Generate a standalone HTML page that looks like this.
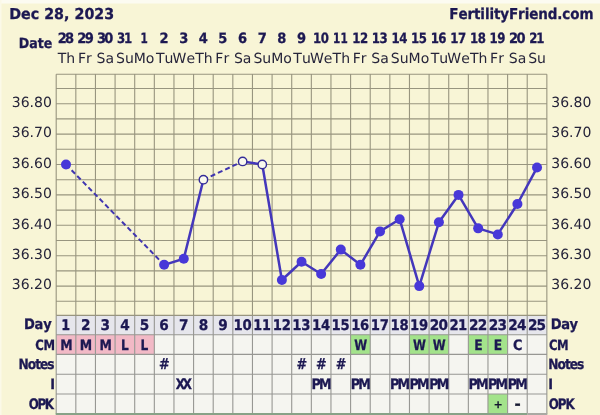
<!DOCTYPE html>
<html><head><meta charset="utf-8"><title>Fertility chart</title>
<style>
html,body{margin:0;padding:0;background:#f8f5d6;}
svg{display:block;font-family:"DejaVu Sans","Liberation Sans",sans-serif;font-kerning:none;text-rendering:geometricPrecision;}
</style></head><body>
<svg width="600" height="415" viewBox="0 0 600 415">
<rect x="0" y="0" width="600" height="415" fill="#f8f5d6"/>
<rect x="0" y="0" width="600" height="3.5" fill="#fcfbf1"/>
<rect x="0" y="0" width="1.5" height="415" fill="#fbf9e8"/>
<rect x="56.20" y="315.40" width="490.65" height="19.30" fill="#e6e6ec"/>
<rect x="56.20" y="334.70" width="490.65" height="79.10" fill="#f5f5f0"/>
<rect x="56.20" y="334.70" width="19.63" height="19.70" fill="#f2b9c6"/>
<rect x="75.83" y="334.70" width="19.63" height="19.70" fill="#f2b9c6"/>
<rect x="95.45" y="334.70" width="19.63" height="19.70" fill="#f2b9c6"/>
<rect x="115.08" y="334.70" width="19.63" height="19.70" fill="#f2b9c6"/>
<rect x="134.70" y="334.70" width="19.63" height="19.70" fill="#f2b9c6"/>
<rect x="350.59" y="334.70" width="19.63" height="19.70" fill="#a3e38b"/>
<rect x="409.47" y="334.70" width="19.63" height="19.70" fill="#a3e38b"/>
<rect x="429.09" y="334.70" width="19.63" height="19.70" fill="#a3e38b"/>
<rect x="468.35" y="334.70" width="19.63" height="19.70" fill="#a3e38b"/>
<rect x="487.97" y="334.70" width="19.63" height="19.70" fill="#a3e38b"/>
<rect x="487.97" y="394.00" width="19.63" height="19.80" fill="#a3e38b"/>
<path d="M56.20 74.20H546.85 M56.20 88.50H546.85 M56.20 103.70H546.85 M56.20 118.90H546.85 M56.20 134.10H546.85 M56.20 149.30H546.85 M56.20 164.50H546.85 M56.20 179.70H546.85 M56.20 194.90H546.85 M56.20 210.10H546.85 M56.20 225.30H546.85 M56.20 240.50H546.85 M56.20 255.70H546.85 M56.20 270.90H546.85 M56.20 286.10H546.85 M56.20 301.30H546.85 M56.20 315.40H546.85 M56.20 74.20V315.40 M75.83 74.20V315.40 M95.45 74.20V315.40 M115.08 74.20V315.40 M134.70 74.20V315.40 M154.33 74.20V315.40 M173.96 74.20V315.40 M193.58 74.20V315.40 M213.21 74.20V315.40 M232.83 74.20V315.40 M252.46 74.20V315.40 M272.09 74.20V315.40 M291.71 74.20V315.40 M311.34 74.20V315.40 M330.96 74.20V315.40 M350.59 74.20V315.40 M370.22 74.20V315.40 M389.84 74.20V315.40 M409.47 74.20V315.40 M429.09 74.20V315.40 M448.72 74.20V315.40 M468.35 74.20V315.40 M487.97 74.20V315.40 M507.60 74.20V315.40 M527.22 74.20V315.40 M546.85 74.20V315.40" stroke="#98957f" stroke-width="1.1" fill="none"/>
<path d="M56.20 334.70H546.85 M56.20 354.40H546.85 M56.20 374.20H546.85 M56.20 394.00H546.85 M56.20 315.40V413.80 M75.83 315.40V413.80 M95.45 315.40V413.80 M115.08 315.40V413.80 M134.70 315.40V413.80 M154.33 315.40V413.80 M173.96 315.40V413.80 M193.58 315.40V413.80 M213.21 315.40V413.80 M232.83 315.40V413.80 M252.46 315.40V413.80 M272.09 315.40V413.80 M291.71 315.40V413.80 M311.34 315.40V413.80 M330.96 315.40V413.80 M350.59 315.40V413.80 M370.22 315.40V413.80 M389.84 315.40V413.80 M409.47 315.40V413.80 M429.09 315.40V413.80 M448.72 315.40V413.80 M468.35 315.40V413.80 M487.97 315.40V413.80 M507.60 315.40V413.80 M527.22 315.40V413.80 M546.85 315.40V413.80" stroke="#979793" stroke-width="1.1" fill="none"/>
<rect x="55.70" y="413.0" width="471.52" height="2" fill="#87a287"/>
<rect x="527.22" y="413.0" width="20.13" height="2" fill="#a9a9a3"/>
<path d="M164.14 264.82L183.77 258.74 M183.77 258.74L203.40 179.70 M242.65 161.46L262.27 164.50 M262.27 164.50L281.90 280.02 M281.90 280.02L301.53 261.78 M301.53 261.78L321.15 273.94 M321.15 273.94L340.78 249.62 M340.78 249.62L360.40 264.82 M360.40 264.82L380.03 231.38 M380.03 231.38L399.66 219.22 M399.66 219.22L419.28 286.10 M419.28 286.10L438.91 222.26 M438.91 222.26L458.53 194.90 M458.53 194.90L478.16 228.34 M478.16 228.34L497.79 234.42 M497.79 234.42L517.41 204.02 M517.41 204.02L537.04 167.54" stroke="#4437bb" stroke-width="2.5" fill="none" stroke-linejoin="round"/>
<path d="M66.01 164.50L164.14 264.82 M203.40 179.70L242.65 161.46" stroke="#4035b0" stroke-width="2.0" fill="none" stroke-dasharray="5 3"/>
<circle cx="66.01" cy="164.50" r="5.0" fill="#4838d8"/>
<circle cx="164.14" cy="264.82" r="5.0" fill="#4838d8"/>
<circle cx="183.77" cy="258.74" r="5.0" fill="#4838d8"/>
<circle cx="203.40" cy="179.70" r="4.2" fill="#faf9ee" stroke="#352c98" stroke-width="1.4"/>
<circle cx="242.65" cy="161.46" r="4.2" fill="#faf9ee" stroke="#352c98" stroke-width="1.4"/>
<circle cx="262.27" cy="164.50" r="4.2" fill="#faf9ee" stroke="#352c98" stroke-width="1.4"/>
<circle cx="281.90" cy="280.02" r="5.0" fill="#4838d8"/>
<circle cx="301.53" cy="261.78" r="5.0" fill="#4838d8"/>
<circle cx="321.15" cy="273.94" r="5.0" fill="#4838d8"/>
<circle cx="340.78" cy="249.62" r="5.0" fill="#4838d8"/>
<circle cx="360.40" cy="264.82" r="5.0" fill="#4838d8"/>
<circle cx="380.03" cy="231.38" r="5.0" fill="#4838d8"/>
<circle cx="399.66" cy="219.22" r="5.0" fill="#4838d8"/>
<circle cx="419.28" cy="286.10" r="5.0" fill="#4838d8"/>
<circle cx="438.91" cy="222.26" r="5.0" fill="#4838d8"/>
<circle cx="458.53" cy="194.90" r="5.0" fill="#4838d8"/>
<circle cx="478.16" cy="228.34" r="5.0" fill="#4838d8"/>
<circle cx="497.79" cy="234.42" r="5.0" fill="#4838d8"/>
<circle cx="517.41" cy="204.02" r="5.0" fill="#4838d8"/>
<circle cx="537.04" cy="167.54" r="5.0" fill="#4838d8"/>
<text transform="translate(9.19 18.50) scale(0.95 1)" font-size="15" font-weight="bold" fill="#1c1852" letter-spacing="0.02" stroke="#1c1852" stroke-width="0.3">Dec 28, 2023</text>
<text transform="translate(449.26 18.50) scale(0.9 1)" font-size="15" font-weight="bold" fill="#1c1852" letter-spacing="-0.11" stroke="#1c1852" stroke-width="0.3">FertilityFriend.com</text>
<text transform="translate(18.74 48.40) scale(0.9 1)" font-size="14" font-weight="bold" fill="#1c1852" letter-spacing="0.01" stroke="#1c1852" stroke-width="0.3">Date</text>
<text transform="translate(0 43.00) scale(0.920 1)" x="62.74 70.73" y="0" font-size="14.2" font-weight="bold" fill="#1c1852" stroke="#1c1852" stroke-width="0.3">28</text>
<text x="57.82" y="62.70" font-size="14" fill="#26243a">Th</text>
<text transform="translate(0 43.00) scale(0.920 1)" x="84.07 92.15" y="0" font-size="14.2" font-weight="bold" fill="#1c1852" stroke="#1c1852" stroke-width="0.3">29</text>
<text x="77.95" y="62.70" font-size="14" fill="#26243a">Fr</text>
<text transform="translate(0 43.00) scale(0.920 1)" x="105.44 113.39" y="0" font-size="14.2" font-weight="bold" fill="#1c1852" stroke="#1c1852" stroke-width="0.3">30</text>
<text x="96.61" y="62.70" font-size="14" fill="#26243a">Sa</text>
<text transform="translate(0 43.00) scale(0.830 1)" x="141.04 149.56" y="0" font-size="14.2" font-weight="bold" fill="#1c1852" stroke="#1c1852" stroke-width="0.3">31</text>
<text x="116.09" y="62.70" font-size="14" fill="#26243a">Su</text>
<text transform="translate(0 43.00) scale(0.740 1)" x="189.91" y="0" font-size="14.2" font-weight="bold" fill="#1c1852" stroke="#1c1852" stroke-width="0.3">1</text>
<text x="133.79" y="62.70" font-size="14" fill="#26243a">Mo</text>
<text transform="translate(0 43.00) scale(0.920 1)" x="173.42" y="0" font-size="14.2" font-weight="bold" fill="#1c1852" stroke="#1c1852" stroke-width="0.3">2</text>
<text x="155.99" y="62.70" font-size="14" fill="#26243a">Tu</text>
<text transform="translate(0 43.00) scale(0.920 1)" x="194.79" y="0" font-size="14.2" font-weight="bold" fill="#1c1852" stroke="#1c1852" stroke-width="0.3">3</text>
<text x="172.58" y="62.70" font-size="14" fill="#26243a">We</text>
<text transform="translate(0 43.00) scale(0.920 1)" x="216.04" y="0" font-size="14.2" font-weight="bold" fill="#1c1852" stroke="#1c1852" stroke-width="0.3">4</text>
<text x="195.20" y="62.70" font-size="14" fill="#26243a">Th</text>
<text transform="translate(0 43.00) scale(0.920 1)" x="237.31" y="0" font-size="14.2" font-weight="bold" fill="#1c1852" stroke="#1c1852" stroke-width="0.3">5</text>
<text x="215.33" y="62.70" font-size="14" fill="#26243a">Fr</text>
<text transform="translate(0 43.00) scale(0.920 1)" x="258.64" y="0" font-size="14.2" font-weight="bold" fill="#1c1852" stroke="#1c1852" stroke-width="0.3">6</text>
<text x="233.99" y="62.70" font-size="14" fill="#26243a">Sa</text>
<text transform="translate(0 43.00) scale(0.920 1)" x="280.12" y="0" font-size="14.2" font-weight="bold" fill="#1c1852" stroke="#1c1852" stroke-width="0.3">7</text>
<text x="253.47" y="62.70" font-size="14" fill="#26243a">Su</text>
<text transform="translate(0 43.00) scale(0.920 1)" x="301.37" y="0" font-size="14.2" font-weight="bold" fill="#1c1852" stroke="#1c1852" stroke-width="0.3">8</text>
<text x="271.17" y="62.70" font-size="14" fill="#26243a">Mo</text>
<text transform="translate(0 43.00) scale(0.920 1)" x="322.78" y="0" font-size="14.2" font-weight="bold" fill="#1c1852" stroke="#1c1852" stroke-width="0.3">9</text>
<text x="293.37" y="62.70" font-size="14" fill="#26243a">Tu</text>
<text transform="translate(0 43.00) scale(0.830 1)" x="377.10 386.33" y="0" font-size="14.2" font-weight="bold" fill="#1c1852" stroke="#1c1852" stroke-width="0.3">10</text>
<text x="309.96" y="62.70" font-size="14" fill="#26243a">We</text>
<text transform="translate(0 43.00) scale(0.740 1)" x="450.12 460.12" y="0" font-size="14.2" font-weight="bold" fill="#1c1852" stroke="#1c1852" stroke-width="0.3">11</text>
<text x="332.58" y="62.70" font-size="14" fill="#26243a">Th</text>
<text transform="translate(0 43.00) scale(0.830 1)" x="424.39 433.67" y="0" font-size="14.2" font-weight="bold" fill="#1c1852" stroke="#1c1852" stroke-width="0.3">12</text>
<text x="352.71" y="62.70" font-size="14" fill="#26243a">Fr</text>
<text transform="translate(0 43.00) scale(0.830 1)" x="448.04 457.35" y="0" font-size="14.2" font-weight="bold" fill="#1c1852" stroke="#1c1852" stroke-width="0.3">13</text>
<text x="371.37" y="62.70" font-size="14" fill="#26243a">Sa</text>
<text transform="translate(0 43.00) scale(0.830 1)" x="471.68 480.92" y="0" font-size="14.2" font-weight="bold" fill="#1c1852" stroke="#1c1852" stroke-width="0.3">14</text>
<text x="390.85" y="62.70" font-size="14" fill="#26243a">Su</text>
<text transform="translate(0 43.00) scale(0.830 1)" x="495.33 504.50" y="0" font-size="14.2" font-weight="bold" fill="#1c1852" stroke="#1c1852" stroke-width="0.3">15</text>
<text x="408.55" y="62.70" font-size="14" fill="#26243a">Mo</text>
<text transform="translate(0 43.00) scale(0.830 1)" x="518.97 528.14" y="0" font-size="14.2" font-weight="bold" fill="#1c1852" stroke="#1c1852" stroke-width="0.3">16</text>
<text x="430.75" y="62.70" font-size="14" fill="#26243a">Tu</text>
<text transform="translate(0 43.00) scale(0.830 1)" x="542.62 551.94" y="0" font-size="14.2" font-weight="bold" fill="#1c1852" stroke="#1c1852" stroke-width="0.3">17</text>
<text x="447.35" y="62.70" font-size="14" fill="#26243a">We</text>
<text transform="translate(0 43.00) scale(0.830 1)" x="566.26 575.50" y="0" font-size="14.2" font-weight="bold" fill="#1c1852" stroke="#1c1852" stroke-width="0.3">18</text>
<text x="469.96" y="62.70" font-size="14" fill="#26243a">Th</text>
<text transform="translate(0 43.00) scale(0.830 1)" x="589.91 599.22" y="0" font-size="14.2" font-weight="bold" fill="#1c1852" stroke="#1c1852" stroke-width="0.3">19</text>
<text x="490.09" y="62.70" font-size="14" fill="#26243a">Fr</text>
<text transform="translate(0 43.00) scale(0.920 1)" x="553.39 561.38" y="0" font-size="14.2" font-weight="bold" fill="#1c1852" stroke="#1c1852" stroke-width="0.3">20</text>
<text x="508.75" y="62.70" font-size="14" fill="#26243a">Sa</text>
<text transform="translate(0 43.00) scale(0.830 1)" x="637.57 646.12" y="0" font-size="14.2" font-weight="bold" fill="#1c1852" stroke="#1c1852" stroke-width="0.3">21</text>
<text x="528.23" y="62.70" font-size="14" fill="#26243a">Su</text>
<text x="11.75" y="107.00" font-size="14" fill="#26243a">36.80</text>
<text x="551.23" y="107.00" font-size="14" fill="#26243a">36.80</text>
<text x="11.75" y="137.40" font-size="14" fill="#26243a">36.70</text>
<text x="551.23" y="137.40" font-size="14" fill="#26243a">36.70</text>
<text x="11.75" y="167.80" font-size="14" fill="#26243a">36.60</text>
<text x="551.23" y="167.80" font-size="14" fill="#26243a">36.60</text>
<text x="11.75" y="198.20" font-size="14" fill="#26243a">36.50</text>
<text x="551.23" y="198.20" font-size="14" fill="#26243a">36.50</text>
<text x="11.75" y="228.60" font-size="14" fill="#26243a">36.40</text>
<text x="551.23" y="228.60" font-size="14" fill="#26243a">36.40</text>
<text x="11.75" y="259.00" font-size="14" fill="#26243a">36.30</text>
<text x="551.23" y="259.00" font-size="14" fill="#26243a">36.30</text>
<text x="11.75" y="289.40" font-size="14" fill="#26243a">36.20</text>
<text x="551.23" y="289.40" font-size="14" fill="#26243a">36.20</text>
<text transform="translate(23.90 328.80) scale(0.9 1)" font-size="14.5" font-weight="bold" fill="#1c1852" letter-spacing="-0.12" stroke="#1c1852" stroke-width="0.3">Day</text>
<text transform="translate(550.70 328.80) scale(0.9 1)" font-size="14.5" font-weight="bold" fill="#1c1852" letter-spacing="-0.40" stroke="#1c1852" stroke-width="0.3">Day</text>
<text transform="translate(35.22 349.70) scale(0.82 1)" font-size="14.2" font-weight="bold" fill="#1c1852" letter-spacing="-0.34" stroke="#1c1852" stroke-width="0.3">CM</text>
<text transform="translate(548.92 349.70) scale(0.82 1)" font-size="14.2" font-weight="bold" fill="#1c1852" letter-spacing="-0.58" stroke="#1c1852" stroke-width="0.3">CM</text>
<text transform="translate(18.58 368.60) scale(0.86 1)" font-size="14.2" font-weight="bold" fill="#1c1852" letter-spacing="-1.19" stroke="#1c1852" stroke-width="0.3">Notes</text>
<text transform="translate(548.28 368.60) scale(0.86 1)" font-size="14.2" font-weight="bold" fill="#1c1852" letter-spacing="-1.13" stroke="#1c1852" stroke-width="0.3">Notes</text>
<text transform="translate(50.22 388.60) scale(0.9 1)" font-size="14.2" font-weight="bold" fill="#1c1852" stroke="#1c1852" stroke-width="0.3">I</text>
<text transform="translate(548.23 388.60) scale(0.9 1)" font-size="14.2" font-weight="bold" fill="#1c1852" stroke="#1c1852" stroke-width="0.3">I</text>
<text transform="translate(28.71 408.50) scale(0.82 1)" font-size="14.5" font-weight="bold" fill="#1c1852" letter-spacing="-1.65" stroke="#1c1852" stroke-width="0.3">OPK</text>
<text transform="translate(548.81 408.50) scale(0.82 1)" font-size="14.5" font-weight="bold" fill="#1c1852" letter-spacing="-1.34" stroke="#1c1852" stroke-width="0.3">OPK</text>
<text transform="translate(0 330.00) scale(0.870 1)" x="70.44" y="0" font-size="14.7" font-weight="bold" fill="#1c1852" stroke="#1c1852" stroke-width="0.3">1</text>
<text transform="translate(0 330.00) scale(0.930 1)" x="87.03" y="0" font-size="14.7" font-weight="bold" fill="#1c1852" stroke="#1c1852" stroke-width="0.3">2</text>
<text transform="translate(0 330.00) scale(0.930 1)" x="108.17" y="0" font-size="14.7" font-weight="bold" fill="#1c1852" stroke="#1c1852" stroke-width="0.3">3</text>
<text transform="translate(0 330.00) scale(0.930 1)" x="129.18" y="0" font-size="14.7" font-weight="bold" fill="#1c1852" stroke="#1c1852" stroke-width="0.3">4</text>
<text transform="translate(0 330.00) scale(0.930 1)" x="150.23" y="0" font-size="14.7" font-weight="bold" fill="#1c1852" stroke="#1c1852" stroke-width="0.3">5</text>
<text transform="translate(0 330.00) scale(0.930 1)" x="171.32" y="0" font-size="14.7" font-weight="bold" fill="#1c1852" stroke="#1c1852" stroke-width="0.3">6</text>
<text transform="translate(0 330.00) scale(0.930 1)" x="192.58" y="0" font-size="14.7" font-weight="bold" fill="#1c1852" stroke="#1c1852" stroke-width="0.3">7</text>
<text transform="translate(0 330.00) scale(0.930 1)" x="213.60" y="0" font-size="14.7" font-weight="bold" fill="#1c1852" stroke="#1c1852" stroke-width="0.3">8</text>
<text transform="translate(0 330.00) scale(0.930 1)" x="234.78" y="0" font-size="14.7" font-weight="bold" fill="#1c1852" stroke="#1c1852" stroke-width="0.3">9</text>
<text transform="translate(0 330.00) scale(0.900 1)" x="259.34 269.33" y="0" font-size="14.7" font-weight="bold" fill="#1c1852" stroke="#1c1852" stroke-width="0.3">10</text>
<text transform="translate(0 330.00) scale(0.870 1)" x="291.03 301.03" y="0" font-size="14.7" font-weight="bold" fill="#1c1852" stroke="#1c1852" stroke-width="0.3">11</text>
<text transform="translate(0 330.00) scale(0.900 1)" x="302.95 313.00" y="0" font-size="14.7" font-weight="bold" fill="#1c1852" stroke="#1c1852" stroke-width="0.3">12</text>
<text transform="translate(0 330.00) scale(0.900 1)" x="324.76 334.84" y="0" font-size="14.7" font-weight="bold" fill="#1c1852" stroke="#1c1852" stroke-width="0.3">13</text>
<text transform="translate(0 330.00) scale(0.900 1)" x="346.56 356.56" y="0" font-size="14.7" font-weight="bold" fill="#1c1852" stroke="#1c1852" stroke-width="0.3">14</text>
<text transform="translate(0 330.00) scale(0.900 1)" x="368.37 378.31" y="0" font-size="14.7" font-weight="bold" fill="#1c1852" stroke="#1c1852" stroke-width="0.3">15</text>
<text transform="translate(0 330.00) scale(0.900 1)" x="390.18 400.11" y="0" font-size="14.7" font-weight="bold" fill="#1c1852" stroke="#1c1852" stroke-width="0.3">16</text>
<text transform="translate(0 330.00) scale(0.900 1)" x="411.98 422.07" y="0" font-size="14.7" font-weight="bold" fill="#1c1852" stroke="#1c1852" stroke-width="0.3">17</text>
<text transform="translate(0 330.00) scale(0.900 1)" x="433.79 443.79" y="0" font-size="14.7" font-weight="bold" fill="#1c1852" stroke="#1c1852" stroke-width="0.3">18</text>
<text transform="translate(0 330.00) scale(0.900 1)" x="455.60 465.68" y="0" font-size="14.7" font-weight="bold" fill="#1c1852" stroke="#1c1852" stroke-width="0.3">19</text>
<text transform="translate(0 330.00) scale(0.930 1)" x="462.21 471.51" y="0" font-size="14.7" font-weight="bold" fill="#1c1852" stroke="#1c1852" stroke-width="0.3">20</text>
<text transform="translate(0 330.00) scale(0.900 1)" x="499.59 508.88" y="0" font-size="14.7" font-weight="bold" fill="#1c1852" stroke="#1c1852" stroke-width="0.3">21</text>
<text transform="translate(0 330.00) scale(0.930 1)" x="504.42 513.77" y="0" font-size="14.7" font-weight="bold" fill="#1c1852" stroke="#1c1852" stroke-width="0.3">22</text>
<text transform="translate(0 330.00) scale(0.930 1)" x="525.52 534.91" y="0" font-size="14.7" font-weight="bold" fill="#1c1852" stroke="#1c1852" stroke-width="0.3">23</text>
<text transform="translate(0 330.00) scale(0.930 1)" x="546.62 555.93" y="0" font-size="14.7" font-weight="bold" fill="#1c1852" stroke="#1c1852" stroke-width="0.3">24</text>
<text transform="translate(0 330.00) scale(0.930 1)" x="567.73 576.97" y="0" font-size="14.7" font-weight="bold" fill="#1c1852" stroke="#1c1852" stroke-width="0.3">25</text>
<text transform="translate(60.13 349.60) scale(0.87 1)" font-size="14.3" font-weight="bold" fill="#1c1852" stroke="#1c1852" stroke-width="0.3">M</text>
<text transform="translate(79.75 349.60) scale(0.87 1)" font-size="14.3" font-weight="bold" fill="#1c1852" stroke="#1c1852" stroke-width="0.3">M</text>
<text transform="translate(99.38 349.60) scale(0.87 1)" font-size="14.3" font-weight="bold" fill="#1c1852" stroke="#1c1852" stroke-width="0.3">M</text>
<text transform="translate(120.93 349.60) scale(0.85 1)" font-size="14.3" font-weight="bold" fill="#1c1852" stroke="#1c1852" stroke-width="0.3">L</text>
<text transform="translate(140.55 349.60) scale(0.85 1)" font-size="14.3" font-weight="bold" fill="#1c1852" stroke="#1c1852" stroke-width="0.3">L</text>
<text transform="translate(354.24 349.60) scale(0.82 1)" font-size="14.3" font-weight="bold" fill="#1c1852" stroke="#1c1852" stroke-width="0.3">W</text>
<text transform="translate(413.12 349.60) scale(0.82 1)" font-size="14.3" font-weight="bold" fill="#1c1852" stroke="#1c1852" stroke-width="0.3">W</text>
<text transform="translate(432.75 349.60) scale(0.82 1)" font-size="14.3" font-weight="bold" fill="#1c1852" stroke="#1c1852" stroke-width="0.3">W</text>
<text transform="translate(474.14 349.60) scale(0.86 1)" font-size="14.3" font-weight="bold" fill="#1c1852" stroke="#1c1852" stroke-width="0.3">E</text>
<text transform="translate(493.77 349.60) scale(0.86 1)" font-size="14.3" font-weight="bold" fill="#1c1852" stroke="#1c1852" stroke-width="0.3">E</text>
<text transform="translate(513.08 349.60) scale(0.9 1)" font-size="14.3" font-weight="bold" fill="#1c1852" stroke="#1c1852" stroke-width="0.3">C</text>
<text transform="translate(159.10 369.20) scale(0.85 1)" font-size="15" font-weight="bold" fill="#1c1852" stroke="#1c1852" stroke-width="0.3">#</text>
<text transform="translate(296.48 369.20) scale(0.85 1)" font-size="15" font-weight="bold" fill="#1c1852" stroke="#1c1852" stroke-width="0.3">#</text>
<text transform="translate(316.11 369.20) scale(0.85 1)" font-size="15" font-weight="bold" fill="#1c1852" stroke="#1c1852" stroke-width="0.3">#</text>
<text transform="translate(335.74 369.20) scale(0.85 1)" font-size="15" font-weight="bold" fill="#1c1852" stroke="#1c1852" stroke-width="0.3">#</text>
<text transform="translate(175.64 388.60) scale(0.82 1)" font-size="14.5" font-weight="bold" fill="#1c1852" letter-spacing="-2.65" stroke="#1c1852" stroke-width="0.3">XX</text>
<text transform="translate(311.39 388.80) scale(0.87 1)" font-size="14.5" font-weight="bold" fill="#1c1852" letter-spacing="-1.93" stroke="#1c1852" stroke-width="0.3">PM</text>
<text transform="translate(350.64 388.80) scale(0.87 1)" font-size="14.5" font-weight="bold" fill="#1c1852" letter-spacing="-1.93" stroke="#1c1852" stroke-width="0.3">PM</text>
<text transform="translate(389.90 388.80) scale(0.87 1)" font-size="14.5" font-weight="bold" fill="#1c1852" letter-spacing="-1.93" stroke="#1c1852" stroke-width="0.3">PM</text>
<text transform="translate(409.52 388.80) scale(0.87 1)" font-size="14.5" font-weight="bold" fill="#1c1852" letter-spacing="-1.93" stroke="#1c1852" stroke-width="0.3">PM</text>
<text transform="translate(429.15 388.80) scale(0.87 1)" font-size="14.5" font-weight="bold" fill="#1c1852" letter-spacing="-1.93" stroke="#1c1852" stroke-width="0.3">PM</text>
<text transform="translate(468.40 388.80) scale(0.87 1)" font-size="14.5" font-weight="bold" fill="#1c1852" letter-spacing="-1.93" stroke="#1c1852" stroke-width="0.3">PM</text>
<text transform="translate(488.03 388.80) scale(0.87 1)" font-size="14.5" font-weight="bold" fill="#1c1852" letter-spacing="-1.93" stroke="#1c1852" stroke-width="0.3">PM</text>
<text transform="translate(507.65 388.80) scale(0.87 1)" font-size="14.5" font-weight="bold" fill="#1c1852" letter-spacing="-1.93" stroke="#1c1852" stroke-width="0.3">PM</text>
<text x="493.69" y="407.50" font-size="10.5" font-weight="bold" fill="#151830" stroke="#151830" stroke-width="0.3">+</text>
<text x="514.50" y="408.60" font-size="15" font-weight="bold" fill="#151830" stroke="#151830" stroke-width="0.3">-</text>
</svg>
</body></html>
